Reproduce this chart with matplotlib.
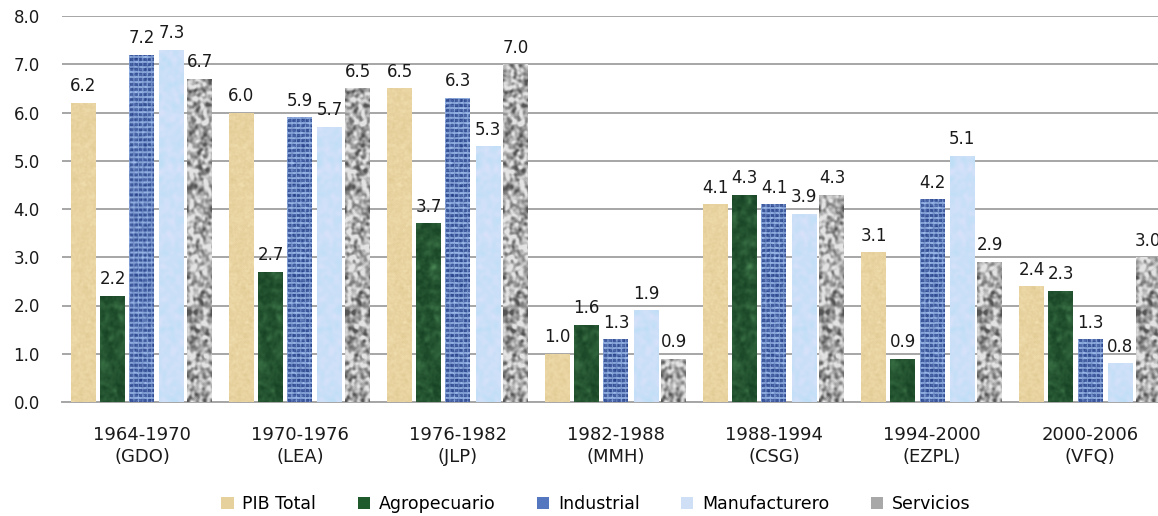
import numpy as np
import matplotlib
matplotlib.use("Agg")
import matplotlib.pyplot as plt
from matplotlib.patches import Patch

# Crecimiento promedio anual por sexenio (%)
periodos = ["1964-1970\n(GDO)", "1970-1976\n(LEA)", "1976-1982\n(JLP)",
            "1982-1988\n(MMH)", "1988-1994\n(CSG)", "1994-2000\n(EZPL)",
            "2000-2006\n(VFQ)"]
series = ["PIB Total", "Agropecuario", "Industrial", "Manufacturero", "Servicios"]
pib_total = [6.2, 6.0, 6.5, 1.0, 4.1, 3.1, 2.4]
agropecuario = [2.2, 2.7, 3.7, 1.6, 4.3, 0.9, 2.3]
industrial = [7.2, 5.9, 6.3, 1.3, 4.1, 4.2, 1.3]
manufacturero = [7.3, 5.7, 5.3, 1.9, 3.9, 5.1, 0.8]
servicios = [6.7, 6.5, 7.0, 0.9, 4.3, 2.9, 3.0]
valores = [pib_total, agropecuario, industrial, manufacturero, servicios]

base_colors = ["#e6d19c", "#1e5a2c", "#5577c0", "#cfe0f6", "#a8a8a8"]

rng = np.random.default_rng(7)


def smooth(a, k):
    # box blur by repeated rolling
    out = a.copy()
    for _ in range(k):
        out = (out + np.roll(out, 1, 0) + np.roll(out, -1, 0)
               + np.roll(out, 1, 1) + np.roll(out, -1, 1)) / 5.0
    return out


def mix(c0, c1, t):
    c0 = np.array(c0, float) / 255
    c1 = np.array(c1, float) / 255
    return c0 + (c1 - c0) * t[..., None]


def norm(a):
    return (a - a.min()) / (a.max() - a.min())


H, W = 420, 28

# papel / pergamino
t = norm(smooth(rng.random((H, W)), 3) * 0.6 + smooth(rng.random((H, W)), 1) * 0.4)
tex_pib = mix((222, 198, 142), (242, 224, 178), t)

# marmol verde
t = norm(smooth(rng.random((H, W)), 10))
t2 = norm(smooth(rng.random((H, W)), 2))
tex_agro = mix((16, 58, 30), (75, 135, 85), np.clip(t ** 1.8 * 0.8 + t2 * 0.3, 0, 1))

# tejido azul
yy, xx = np.mgrid[0:H, 0:W]
grid = (((yy % 5) < 2) | ((xx % 5) < 1)).astype(float)
t = np.clip(0.5 * grid + 0.5 * norm(smooth(rng.random((H, W)), 1)), 0, 1)
tex_ind = mix((30, 55, 130), (170, 200, 245), t)

# azul claro
t = norm(smooth(rng.random((H, W)), 8))
tex_man = mix((188, 222, 246), (218, 226, 250), t)

# granito gris
t = norm(smooth(rng.random((H, W)), 5))
tex_ser = mix((85, 85, 85), (228, 228, 228), np.clip((t - 0.2) * 1.9, 0, 1))

textures = [tex_pib, tex_agro, tex_ind, tex_man, tex_ser]

fig = plt.figure(figsize=(11.58, 5.16), dpi=100)
ax = fig.add_axes([62 / 1158, 114 / 516, (1158 - 62) / 1158, 386 / 516])

x = np.arange(len(periodos))
offsets = [-0.37, -0.185, 0.0, 0.19, 0.367]
width = 0.158
px_per_unit = 386 / 8.0

for vals, off, tex, col in zip(valores, offsets, textures, base_colors):
    bars = ax.bar(x + off, vals, width, color=col, zorder=2, linewidth=0)
    for b, v in zip(bars, vals):
        rows = max(int(round(v * px_per_unit)), 1)
        img = tex[H - rows:, :, :]
        x0 = b.get_x()
        im = ax.imshow(img, extent=(x0, x0 + width, 0, v), aspect="auto",
                       interpolation="bilinear", zorder=3)
        im.set_clip_path(b)
        ax.annotate(f"{v:.1f}", (x0 + width / 2, v), xytext=(0, 5.5),
                    textcoords="offset points", ha="center", va="bottom",
                    fontsize=12, color="#1a1a1a", zorder=4)

ax.set_xlim(-0.506, (1158 - 142) / 158)
ax.set_ylim(0, 8)
ax.set_yticks(np.arange(0, 8.01, 1.0))
ax.set_yticklabels([f"{v:.1f}" for v in np.arange(0, 8.01, 1.0)])
ax.set_xticks(x)
ax.set_xticklabels(periodos, linespacing=1.3)
ax.tick_params(axis="both", length=0, colors="#1a1a1a")
ax.tick_params(axis="y", pad=16, labelsize=12)
ax.tick_params(axis="x", pad=17, labelsize=13)
ax.yaxis.grid(True, color="#a6a6a6", linewidth=1.4, zorder=0)
ax.set_axisbelow(True)
for s in ["top", "right", "left"]:
    ax.spines[s].set_visible(False)
ax.spines["bottom"].set_color("#a6a6a6")
ax.spines["bottom"].set_linewidth(1.4)

handles = [Patch(facecolor=c, edgecolor="none") for c in base_colors]
fig.legend(handles, series, loc="center", bbox_to_anchor=(596 / 1158, 1 - 504 / 516),
           ncol=5, frameon=False, fontsize=12.5, handlelength=0.7, handleheight=0.7,
           handletextpad=0.5, columnspacing=2.4)

fig.savefig("out.png", dpi=100)
